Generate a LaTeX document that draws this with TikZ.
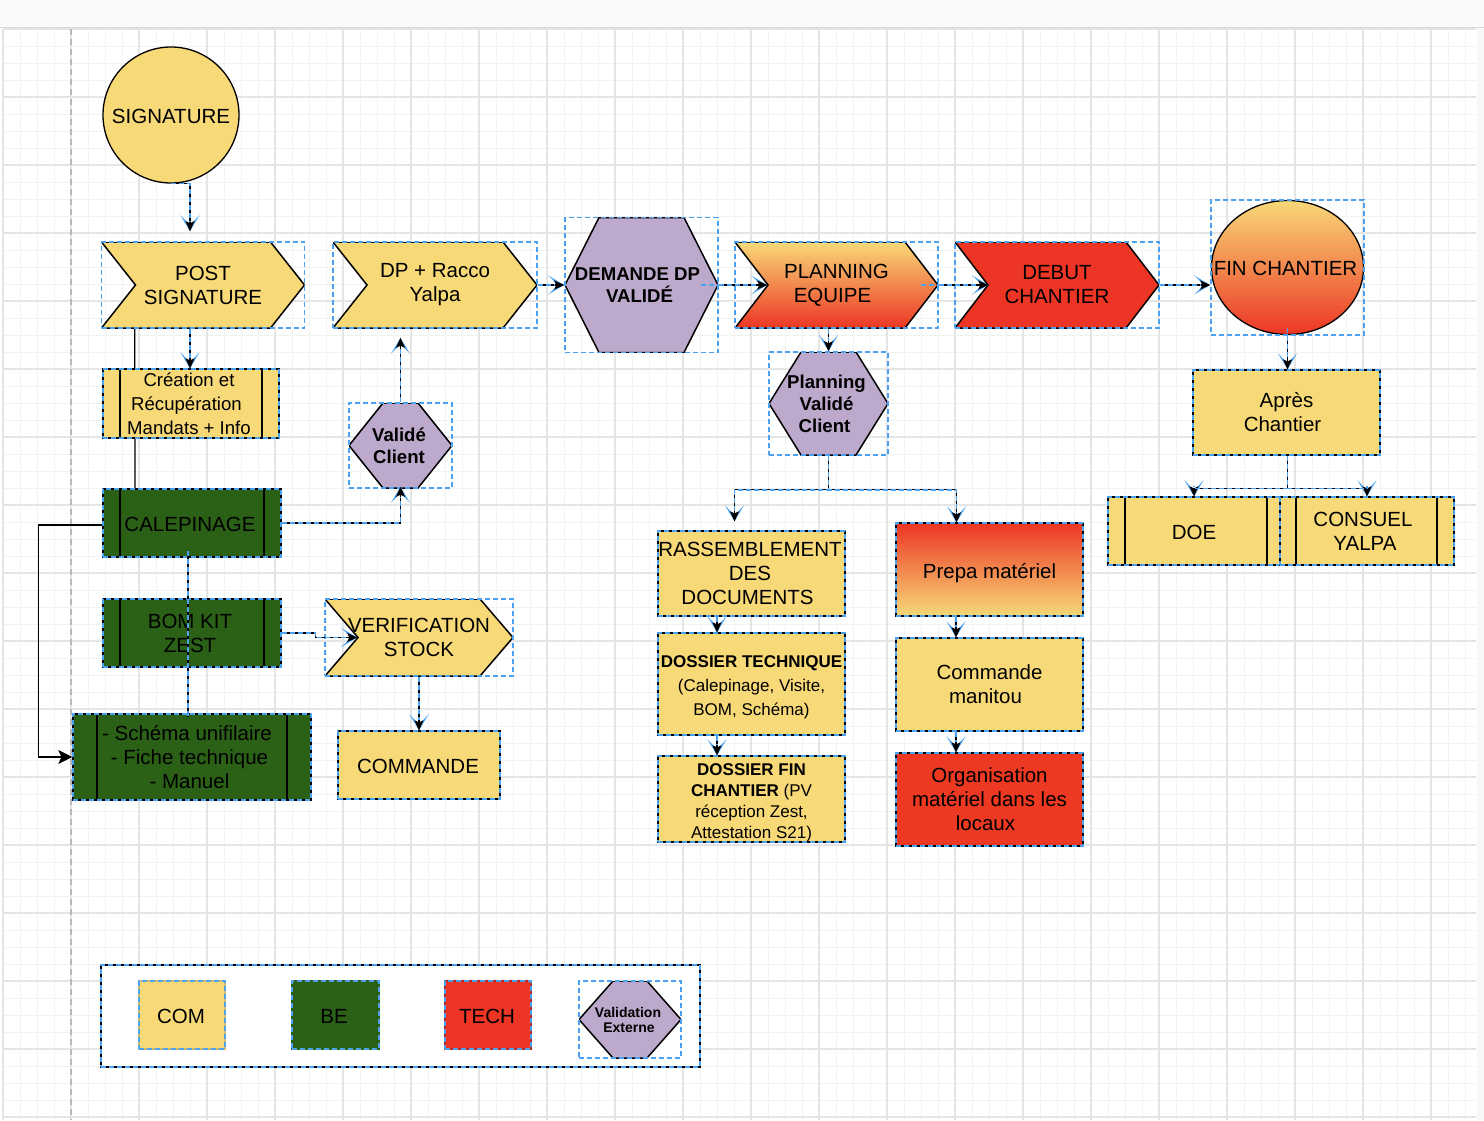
\documentclass[tikz,border=0pt]{standalone}
\usepackage{fontspec}
\setmainfont{Liberation Sans}
\usetikzlibrary{arrows.meta,backgrounds}
\definecolor{comfill}{HTML}{F8D978}
\definecolor{befill}{HTML}{2B6017}
\definecolor{techfill}{HTML}{EC3524}
\definecolor{valfill}{HTML}{BDA9CB}
\definecolor{selblue}{HTML}{4BA3F0}

\begin{document}
\begin{tikzpicture}[x=1pt,y=-1pt,node distance=100pt,
    every node/.style={inner sep=0pt,align=center,font=\fontsize{20.5}{24}\selectfont,
      execute at begin node={\rule{0pt}{16.5pt}}}]
    \tikzstyle{sel-dash}=[draw=selblue,line width=1.6pt,dash pattern=on 5pt off 3pt]
    \tikzstyle{plain-box}=[rectangle,draw=black,line width=1.3pt,postaction={sel-dash}]
    \tikzstyle{bold-text}=[font=\fontsize{18.6}{22}\selectfont\bfseries]
    \tikzstyle{small-text}=[font=\fontsize{17}{21}\selectfont]
    \tikzstyle{link}=[draw=black,line width=1.1pt,
      -{Stealth[color=selblue,fill=selblue,length=16pt,width=19pt,inset=10pt,sep=-10pt]Stealth[black,length=10pt,width=9pt,inset=2pt]},
      postaction={draw=selblue,line width=1.5pt,dash pattern=on 5pt off 3pt,-,shorten >=10pt}]
    \tikzstyle{link-end}=[draw=black,line width=1.1pt,postaction={draw=selblue,line width=1.5pt,dash pattern=on 5pt off 3pt}]
    \tikzstyle{stub}=[draw=selblue,line width=1.5pt,dash pattern=on 5pt off 3pt]
    \tikzstyle{solid-link}=[draw=black,line width=1.3pt,-{Stealth[length=14pt,width=14pt,inset=3pt]}]
    \tikzset{
      size/.style 2 args={minimum width=#1pt,minimum height=#2pt},
      chevron-box/.style 2 args={rectangle,sel-dash,path picture={
        \path[#2,draw=black,solid,line width=1.5pt] (path picture bounding box.north west)
          -- ([xshift=-#1pt]path picture bounding box.north east) -- (path picture bounding box.east)
          -- ([xshift=-#1pt]path picture bounding box.south east) -- (path picture bounding box.south west)
          -- ([xshift=#1pt]path picture bounding box.west) -- cycle;}},
      hexa-box/.style={rectangle,sel-dash,path picture={
        \path[fill=valfill,draw=black,solid,line width=1.5pt] ([xshift=#1pt]path picture bounding box.north west)
          -- ([xshift=-#1pt]path picture bounding box.north east) -- (path picture bounding box.east)
          -- ([xshift=-#1pt]path picture bounding box.south east) -- ([xshift=#1pt]path picture bounding box.south west)
          -- (path picture bounding box.west) -- cycle;}},
      process-box/.style 2 args={plain-box,path picture={
        \draw[black,solid,line width=1.3pt] ([xshift=#1pt]path picture bounding box.north west)
          -- ([xshift=#1pt]path picture bounding box.south west);
        \draw[black,solid,line width=1.3pt] ([xshift=-#2pt]path picture bounding box.north east)
          -- ([xshift=-#2pt]path picture bounding box.south east);}},
    }
    \useasboundingbox (0,0) rectangle (1484,1120);

    % page and grid
    \begin{scope}[on background layer]
      \fill[white] (0,0) rectangle (1484,1120);
      \foreach \gx in {3,20,...,1476} \draw[black!5,line width=0.8pt] (\gx,29) -- (\gx,1120);
      \foreach \gy in {29,46,...,1120} \draw[black!5,line width=0.8pt] (3,\gy) -- (1476,\gy);
      \foreach \gx in {3,71,...,1476} \draw[black!10,line width=1.5pt] (\gx,29) -- (\gx,1120);
      \foreach \gy in {29,97,...,1120} \draw[black!10,line width=1.5pt] (3,\gy) -- (1476,\gy);
      \draw[black!28,line width=1.5pt,dash pattern=on 6pt off 4pt] (71,29) -- (71,1120);
      \fill[black!2] (0,0) rectangle (1484,27);
      \draw[black!15,line width=1.5pt] (0,27.5) -- (1484,27.5);
      \fill[black!3] (1477,28) rectangle (1484,1120);
    \end{scope}

    \node [circle,draw=black,line width=1.3pt,fill=comfill,minimum size=136pt] (sign) at (171,115) {SIGNATURE};
    \node [chevron-box={34}{fill=comfill},size={203}{86},below of=sign,node distance=170pt,xshift=32pt] (post) {POST\\SIGNATURE};
    \node [chevron-box={34}{fill=comfill},size={204}{86},right of=post,node distance=232pt] (dp) {DP + Racco\\Yalpa};
    \node [hexa-box=34,size={153}{135},bold-text,right of=dp,node distance=206.5pt] (demande) {\hspace*{-8pt}DEMANDE DP\\\hspace*{-4pt}VALIDÉ};
    \node [chevron-box={33}{top color=comfill,bottom color=techfill},size={203}{86},right of=demande,node distance=195pt] (planning) {PLANNING\\\hspace*{-8pt}EQUIPE};
    \node [chevron-box={33}{fill=techfill},size={204}{86},right of=planning,node distance=220.5pt] (debut) {DEBUT\\CHANTIER};
    \node [rectangle,sel-dash,size={153}{135},right of=debut,node distance=230.5pt,yshift=17.5pt,path picture={
      \shade[top color=comfill,bottom color=techfill,draw=black,solid,line width=1.3pt]
        (path picture bounding box.center) ellipse [x radius=76pt,y radius=67pt];}] (fin) {\hspace*{-4pt}FIN CHANTIER};
    \node [plain-box,fill=comfill,size={187}{85},below of=fin,node distance=145pt,xshift=-1pt] (apres) {Après\\\hspace*{-8pt}Chantier};
    \node [process-box={17}{13},fill=comfill,size={172}{68},below of=apres,node distance=118.5pt,xshift=-92.5pt] (doe) {DOE};
    \node [process-box={16}{17},fill=comfill,size={174}{68},right of=doe,node distance=173pt] (consuel) {\hspace*{-8pt}CONSUEL\\\hspace*{-4pt}YALPA};

    \node [hexa-box=32,size={119}{103},bold-text,below of=planning,node distance=118.5pt,xshift=-8pt] (pvalide) {\hspace*{-4pt}Planning\\\hspace*{-4pt}Validé\\\hspace*{-8pt}Client};
    \node [plain-box,fill=comfill,size={187}{85},below of=pvalide,node distance=170pt,xshift=-77pt] (rassemble) {\hspace*{-3pt}RASSEMBLEMENT\\\hspace*{-3pt}DES\\\hspace*{-8pt}DOCUMENTS};
    \node [plain-box,fill=comfill,size={187}{102},below of=rassemble,node distance=110.5pt,font=\fontsize{17}{24}\selectfont] (dtech) {\rule{0pt}{18.5pt}\textbf{DOSSIER TECHNIQUE}\\(Calepinage, Visite,\\BOM, Schéma)};
    \node [plain-box,fill=comfill,size={187}{86},small-text,below of=dtech,node distance=115pt] (dfin) {\rule{0pt}{19pt}\textbf{DOSSIER FIN}\\\textbf{CHANTIER} (PV\\réception Zest,\\Attestation S21)};
    \node [plain-box,top color=techfill,bottom color=comfill,size={187}{93},right of=rassemble,node distance=238pt,yshift=4pt] (prepa) {\rule{0pt}{22pt}Prepa matériel};
    \node [plain-box,fill=comfill,size={187}{93},below of=prepa,node distance=115pt] (manitou) {Commande\\\hspace*{-8pt}manitou};
    \node [plain-box,fill=techfill!95!orange,size={187}{93},below of=manitou,node distance=115pt] (orga) {Organisation\\matériel dans les\\\hspace*{-8pt}locaux};

    \node [process-box={17}{17},fill=comfill,size={176}{69},below of=post,node distance=118.5pt,xshift=-12pt,font=\fontsize{18.6}{24}\selectfont] (creation) {\hspace*{-4pt}Création et\\\hspace*{-9pt}Récupération\\\hspace*{-4pt}Mandats + Info};
    \node [process-box={17}{17},fill=befill,size={178}{68},below of=creation,node distance=119.5pt,xshift=1pt] (cale) {\hspace*{-4pt}CALEPINAGE};
    \node [process-box={17}{17},fill=befill,size={178}{68},below of=cale,node distance=110pt] (bom) {\hspace*{-4pt}BOM KIT\\\hspace*{-4pt}ZEST};
    \node [process-box={24}{24},fill=befill,size={238}{86},below of=bom,node distance=124pt] (schema) {\hspace*{-10pt}- Schéma unifilaire\\\hspace*{-5pt}- Fiche technique\\\hspace*{-5pt}- Manuel};
    \node [hexa-box=34,size={103}{85},bold-text,below of=dp,node distance=160.5pt,xshift=-34.5pt] (valide) {\hspace*{-3pt}Validé\\\hspace*{-3pt}Client};
    \node [chevron-box={33}{fill=comfill},size={188}{77},right of=bom,node distance=227pt,yshift=-4.5pt] (verif) {VERIFICATION\\STOCK};
    \node [plain-box,fill=comfill,size={162}{68},below of=verif,node distance=127.5pt] (commande) {\rule{0pt}{18pt}\hspace*{-2pt}COMMANDE};

    % legend
    \node [plain-box,fill=white,size={599}{102}] (legend) at (400.5,1016) {};
    \node [rectangle,draw=comfill!85!black,line width=1.3pt,fill=comfill,postaction={sel-dash},size={86}{68}] (com) at (182,1015) {\hspace*{-2pt}COM};
    \node [rectangle,draw=befill,line width=1.3pt,fill=befill,postaction={sel-dash},size={87}{68},right of=com,node distance=153.5pt] (be) {\hspace*{-3pt}BE};
    \node [rectangle,draw=techfill!80!black,line width=1.3pt,fill=techfill,postaction={sel-dash},size={86}{68},right of=be,node distance=152.5pt] (tech) {\hspace*{-2pt}TECH};
    \node [hexa-box=34,size={102}{77},right of=tech,node distance=142pt,yshift=-4.5pt,font=\fontsize{14}{15}\selectfont\bfseries] (externe) {\hspace*{-4pt}Validation\\\hspace*{-2pt}Externe};

    % the line behind the Création box
    \begin{scope}[on background layer]
      \draw[black,line width=1.3pt] ([xshift=34pt]post.south west) -- ([xshift=-57pt]cale.north);
    \end{scope}

    \draw [link] (sign.south) -| ([xshift=-13pt,yshift=10pt]post.north);
    \draw [link] ([xshift=-13pt]post.south) -- ([xshift=-1pt]creation.north);
    \draw [link] (cale.east) -| ([yshift=2pt]valide.south);
    \draw [link] (valide.north) -- ([xshift=-34.5pt,yshift=-9pt]dp.south);
    \draw [link] (dp.east) -- (demande.west);
    \draw [link] (demande.east) -- ([xshift=33pt]planning.west);
    \draw [stub] ([xshift=-18pt]demande.east) -- (demande.east);
    \draw [link] (planning.east) -- ([xshift=34pt]debut.west);
    \draw [stub] ([xshift=-18pt]planning.east) -- (planning.east);
    \draw [link] (debut.east) -- (fin.west |- debut.east);
    \draw [link] ([xshift=-8pt]planning.south) -- (pvalide.north);
    \draw [link] (pvalide.south) |- ([yshift=-34pt]pvalide.south) -| ([xshift=-17pt,yshift=9pt]rassemble.north);
    \draw [link] (pvalide.south) |- ([yshift=-34pt]pvalide.south) -| ([xshift=-33pt]prepa.north);
    \draw [link] ([xshift=-34.5pt]rassemble.south) -- ([xshift=-34.5pt]dtech.north);
    \draw [link] ([xshift=-34.5pt]dtech.south) -- ([xshift=-34.5pt]dfin.north);
    \draw [link] ([xshift=-33.5pt]prepa.south) -- ([xshift=-33.5pt]manitou.north);
    \draw [link] ([xshift=-33.5pt]manitou.south) -- ([xshift=-33.5pt]orga.north);
    \draw [link] (fin.south) -- ([xshift=1pt]apres.north);
    \draw [stub] ([yshift=8pt]fin.south) -- (fin.south);
    \draw [link] ([xshift=1pt]apres.south) |- ([yshift=8pt]doe.north) -- (doe.north);
    \draw [link] ([xshift=1pt]apres.south) |- ([yshift=8pt]consuel.north) -- (consuel.north);
    \draw [link] (bom.east) -- ([xshift=34pt]bom.east) |- ([xshift=33pt]verif.west);
    \draw [link] (verif.south) -- (commande.north);
    \draw [link-end] ([xshift=-4pt,yshift=7pt]cale.south) -- ([xshift=-4pt,yshift=-4pt]schema.north);
    \draw [solid-link] ([yshift=-2pt]cale.west) -- ([xshift=-64pt,yshift=-2pt]cale.west) |- (schema.west);
\end{tikzpicture}
\end{document}
